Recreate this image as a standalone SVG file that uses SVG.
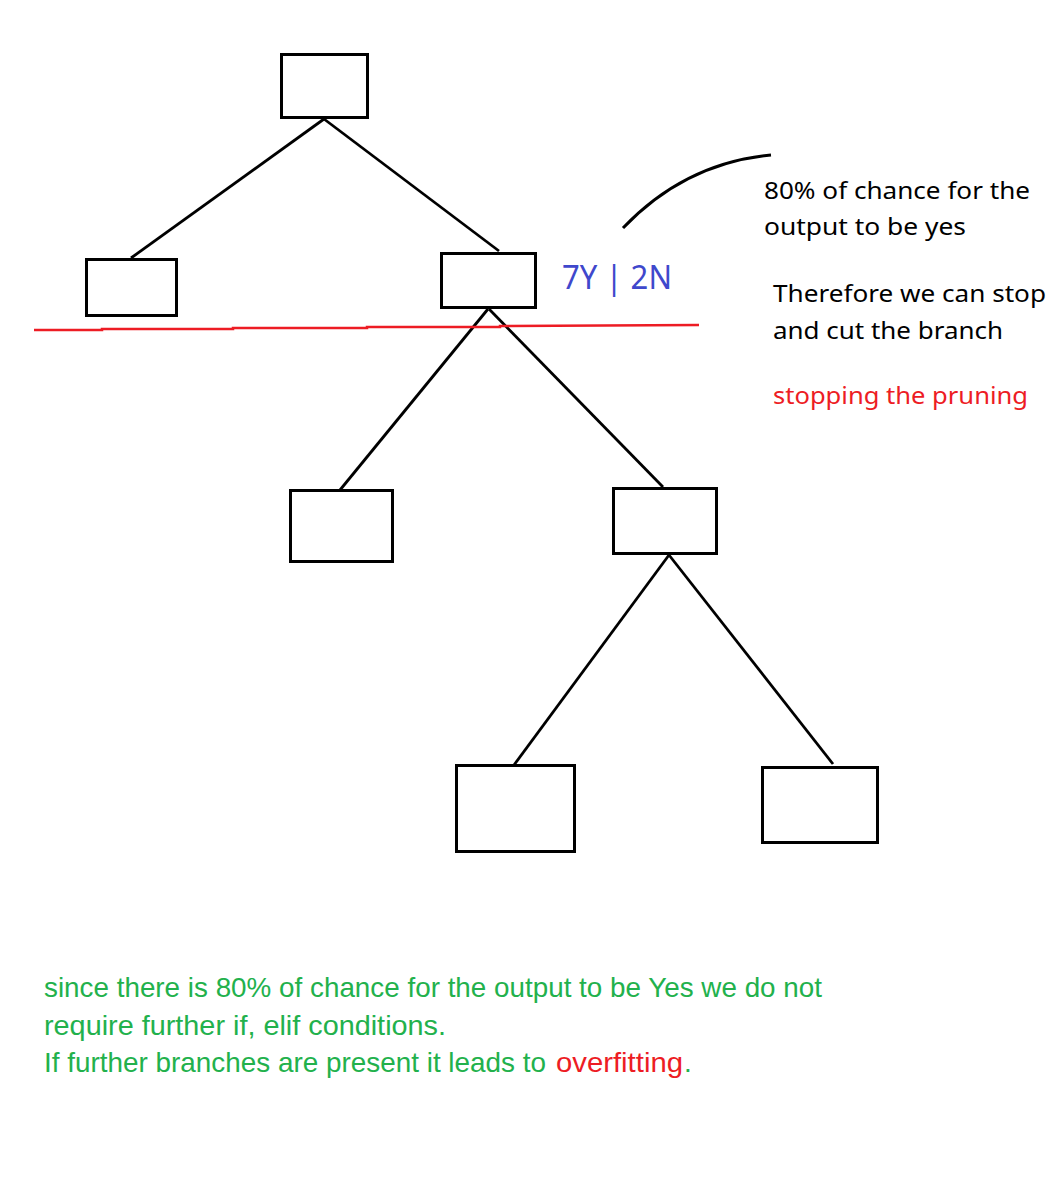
<svg xmlns="http://www.w3.org/2000/svg" width="1054" height="1188" viewBox="0 0 1054 1188">
<style>
.box{fill:#fff;stroke:#000;stroke-width:3}
.edge{stroke:#000;stroke-width:2.8;fill:none}
.t{font-family:"Noto Sans","Open Sans","DejaVu Sans",sans-serif;font-size:24px;fill:#000}
.g{font-family:"Liberation Sans","Noto Sans",sans-serif;font-size:28px;fill:#22b14c}
.red{fill:#ed1c24}
</style>
<rect width="1054" height="1188" fill="#fff"/>
<g id="connectors">
<line class="edge" x1="324" y1="119" x2="131" y2="258"/>
<line class="edge" x1="324" y1="119" x2="499" y2="251"/>
<line class="edge" x1="488" y1="309" x2="340" y2="490"/>
<line class="edge" x1="489" y1="309" x2="663" y2="487"/>
<line class="edge" x1="669" y1="555" x2="514" y2="765"/>
<line class="edge" x1="669" y1="555" x2="833" y2="764"/>
</g>
<g id="node-root"><rect class="box" x="281.5" y="54.5" width="86" height="63"/></g>
<g id="node-left"><rect class="box" x="86.5" y="259.5" width="90" height="56"/></g>
<g id="node-right"><rect class="box" x="441.5" y="253.5" width="94" height="54"/></g>
<g id="node-mid-left"><rect class="box" x="290.5" y="490.5" width="102" height="71"/></g>
<g id="node-mid-right"><rect class="box" x="613.5" y="488.5" width="103" height="65"/></g>
<g id="node-bottom-left"><rect class="box" x="456.5" y="765.5" width="118" height="86"/></g>
<g id="node-bottom-right"><rect class="box" x="762.5" y="767.5" width="115" height="75"/></g>
<g id="cut-line">
<polyline points="34,330 102,330 102,329 233,329 233,328 367,328 367,327 500,327 500,326 699,325" fill="none" stroke="#ed1c24" stroke-width="2.5"/>
</g>
<g id="callout">
<path d="M623,228 Q685,163 771,155" fill="none" stroke="#000" stroke-width="3"/>
</g>
<g id="labels">
<text class="t" x="562" y="289" style="font-size:32px;fill:#3f48cc" textLength="110" lengthAdjust="spacingAndGlyphs">7Y | 2N</text>
<text class="t" x="764" y="199" textLength="266" lengthAdjust="spacingAndGlyphs">80% of chance for the</text>
<text class="t" x="764" y="235" textLength="202" lengthAdjust="spacingAndGlyphs">output to be yes</text>
<text class="t" x="773" y="302" textLength="273" lengthAdjust="spacingAndGlyphs">Therefore we can stop</text>
<text class="t" x="773" y="339" textLength="230" lengthAdjust="spacingAndGlyphs">and cut the branch</text>
<text class="t red" x="773" y="404" textLength="255" lengthAdjust="spacingAndGlyphs">stopping the pruning</text>
<text class="g" x="44" y="997" textLength="778" lengthAdjust="spacingAndGlyphs">since there is 80% of chance for the output to be Yes we do not</text>
<text class="g" x="44" y="1035" textLength="402" lengthAdjust="spacingAndGlyphs">require further if, elif conditions.</text>
<text class="g" x="44" y="1072" textLength="502" lengthAdjust="spacingAndGlyphs">If further branches are present it leads to</text>
<text class="g red" x="556" y="1072" textLength="127" lengthAdjust="spacingAndGlyphs">overfitting</text>
<text class="g" x="684" y="1072">.</text>
</g>
</svg>
